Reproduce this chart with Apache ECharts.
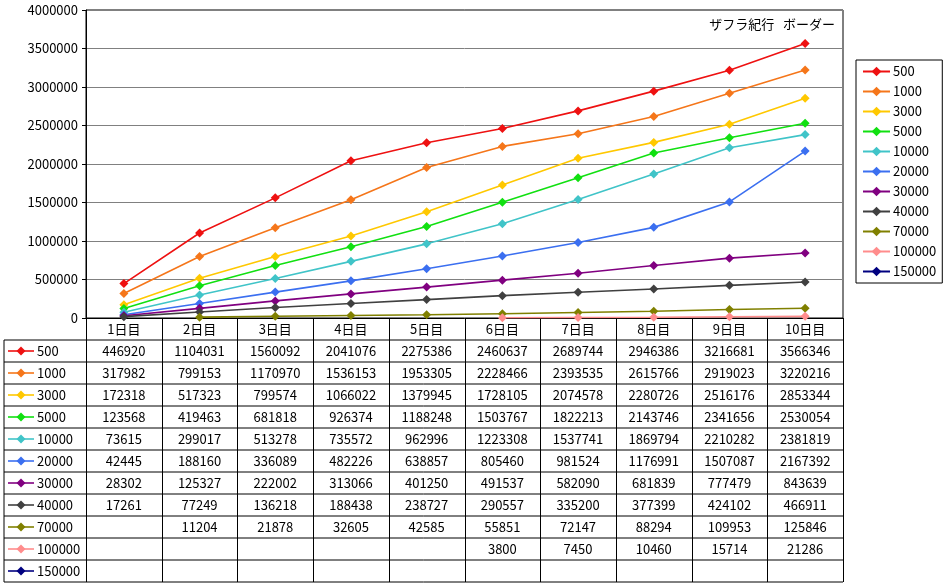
<!DOCTYPE html>
<html>
<head>
<meta charset="utf-8">
<script src="https://cdn.jsdelivr.net/npm/echarts@6/dist/echarts.min.js"></script>
<style>
  html, body { margin: 0; padding: 0; background: #fff; }
  #chart { width: 947px; height: 584px; }
</style>
</head>
<body>
<div id="chart"></div>
<script>
// ザフラ紀行 ボーダー推移
var days = ['1日目', '2日目', '3日目', '4日目', '5日目', '6日目', '7日目', '8日目', '9日目', '10日目'];
var ranks = ['500', '1000', '3000', '5000', '10000', '20000', '30000', '40000', '70000', '100000', '150000'];
var colors = ['#ee1111', '#f5761a', '#ffc800', '#11e011', '#40c4c8', '#3b6ff0', '#800080', '#404040', '#808000', '#ff8c8c', '#000080'];

var b500 = [446920, 1104031, 1560092, 2041076, 2275386, 2460637, 2689744, 2946386, 3216681, 3566346];
var b1000 = [317982, 799153, 1170970, 1536153, 1953305, 2228466, 2393535, 2615766, 2919023, 3220216];
var b3000 = [172318, 517323, 799574, 1066022, 1379945, 1728105, 2074578, 2280726, 2516176, 2853344];
var b5000 = [123568, 419463, 681818, 926374, 1188248, 1503767, 1822213, 2143746, 2341656, 2530054];
var b10000 = [73615, 299017, 513278, 735572, 962996, 1223308, 1537741, 1869794, 2210282, 2381819];
var b20000 = [42445, 188160, 336089, 482226, 638857, 805460, 981524, 1176991, 1507087, 2167392];
var b30000 = [28302, 125327, 222002, 313066, 401250, 491537, 582090, 681839, 777479, 843639];
var b40000 = [17261, 77249, 136218, 188438, 238727, 290557, 335200, 377399, 424102, 466911];
var b70000 = [null, 11204, 21878, 32605, 42585, 55851, 72147, 88294, 109953, 125846];
var b100000 = [null, null, null, null, null, 3800, 7450, 10460, 15714, 21286];
var b150000 = [null, null, null, null, null, null, null, null, null, null];

var yTicks = [0, 500000, 1000000, 1500000, 2000000, 2500000, 3000000, 3500000, 4000000];

var values = [b500, b1000, b3000, b5000, b10000, b20000, b30000, b40000, b70000, b100000, b150000];

// 画面配置（px）
var W = 947, H = 584;
var plotL = 86, plotR = 843, plotT = 10, plotB = 318;
var colW = (plotR - plotL) / days.length;
var tableL = 4, rowTop = 340, rowH = 22;
var font = '"Noto Sans CJK JP", sans-serif';

var chart = echarts.init(document.getElementById('chart'), null, { renderer: 'canvas' });

var series = ranks.map(function (name, i) {
  return {
    name: name,
    type: 'line',
    data: values[i],
    symbol: 'diamond',
    symbolSize: 9,
    connectNulls: false,
    lineStyle: { color: colors[i], width: 1.6 },
    itemStyle: { color: colors[i] },
    emphasis: { disabled: true }
  };
});

// データテーブル
var graphics = [];
function hline(x1, x2, y) {
  graphics.push({ type: 'line', shape: { x1: x1, y1: y, x2: x2, y2: y }, style: { stroke: '#000', lineWidth: 1 }, silent: true });
}
function vline(x, y1, y2) {
  graphics.push({ type: 'line', shape: { x1: x, y1: y1, x2: x, y2: y2 }, style: { stroke: '#000', lineWidth: 1 }, silent: true });
}
for (var r = 0; r <= ranks.length; r++) {
  hline(tableL, plotR, rowTop + r * rowH);
}
vline(tableL, rowTop, rowTop + ranks.length * rowH);
for (var c = 0; c <= days.length; c++) {
  vline(Math.round(plotL + c * colW) + 0.5, plotB, rowTop + ranks.length * rowH);
}
ranks.forEach(function (name, r) {
  var cy = rowTop + (r + 0.5) * rowH;
  graphics.push({ type: 'line', shape: { x1: 8, y1: cy, x2: 34, y2: cy }, style: { stroke: colors[r], lineWidth: 1.6 }, silent: true });
  graphics.push({ type: 'polygon', shape: { points: [[21, cy - 4.5], [25.5, cy], [21, cy + 4.5], [16.5, cy]] }, style: { fill: colors[r] }, silent: true });
  graphics.push({ type: 'text', x: 37, y: cy, style: { text: name, font: '13px ' + font, fill: '#000', textVerticalAlign: 'middle' }, silent: true });
  values[r].forEach(function (v, c) {
    if (v == null) return;
    graphics.push({
      type: 'text', x: plotL + (c + 0.5) * colW, y: cy,
      style: { text: String(v), font: '13px ' + font, fill: '#000', textAlign: 'center', textVerticalAlign: 'middle' },
      silent: true
    });
  });
});
graphics.push({
  type: 'text', x: 835, y: 24,
  style: { text: 'ザフラ紀行   ボーダー', font: '13px ' + font, fill: '#000', textAlign: 'right', textVerticalAlign: 'middle' },
  silent: true
});

chart.setOption({
  animation: false,
  backgroundColor: '#fff',
  textStyle: { fontFamily: font },
  grid: {
    left: plotL, right: W - plotR, top: plotT, bottom: H - plotB,
    show: true, borderColor: '#000', borderWidth: 1, backgroundColor: '#fff'
  },
  legend: {
    orient: 'vertical',
    left: 856, top: 60,
    data: ranks,
    itemWidth: 27, itemHeight: 12, itemGap: 7,
    padding: [5, 6, 5, 6],
    borderColor: '#000', borderWidth: 1,
    textStyle: { fontSize: 13, color: '#000', padding: [0, 0, 0, -2] },
    selectedMode: false
  },
  xAxis: {
    type: 'category',
    data: days,
    boundaryGap: true,
    axisLine: { show: true, lineStyle: { color: '#000' } },
    axisTick: { show: false },
    axisLabel: { color: '#000', fontSize: 13, margin: 5, interval: 0 }
  },
  yAxis: {
    type: 'value',
    min: yTicks[0], max: yTicks[yTicks.length - 1], interval: yTicks[1] - yTicks[0],
    axisLine: { show: true, lineStyle: { color: '#000' } },
    axisTick: { show: true, length: 4, inside: false, lineStyle: { color: '#000' } },
    axisLabel: { color: '#000', fontSize: 13, margin: 8, formatter: function (v) { return String(v); } },
    splitLine: { lineStyle: { color: '#808080' } }
  },
  series: series,
  graphic: graphics
});
</script>
</body>
</html>
